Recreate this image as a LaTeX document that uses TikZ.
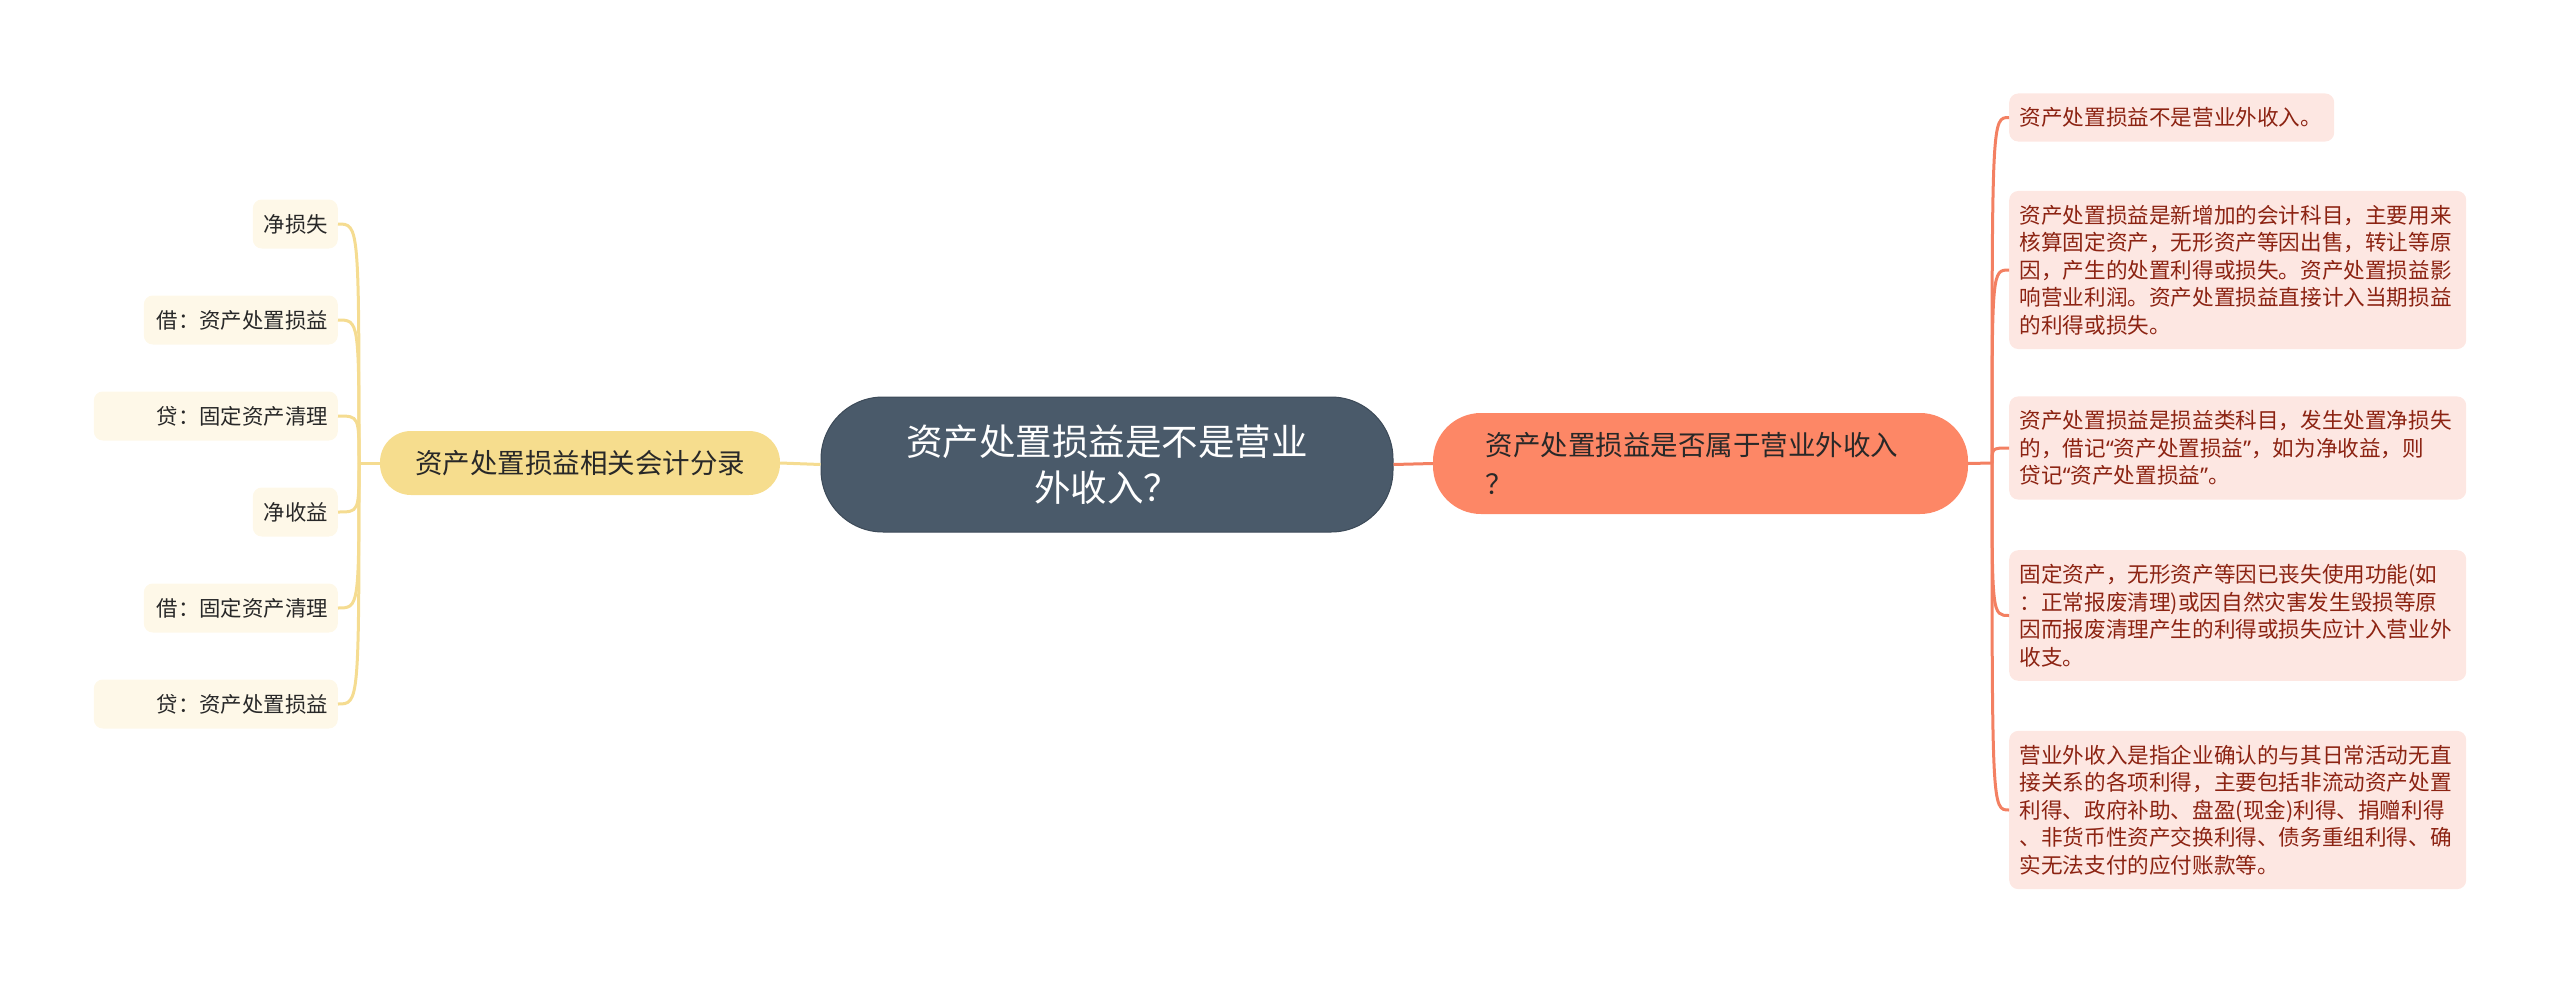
\documentclass[tikz,border=0pt]{standalone}
\usepackage{fontspec}
\setmainfont{Noto Sans CJK SC}
\newfontfamily\latinq{Noto Sans}
\newcommand{\myopq}{{\latinq “}}
\newcommand{\myclq}{{\latinq ”}}
\usetikzlibrary{calc}
\definecolor{cfill}{RGB}{74,90,106}
\definecolor{cdraw}{RGB}{60,74,88}
\definecolor{rfill}{RGB}{253,135,102}
\definecolor{rleaf}{RGB}{253,231,226}
\definecolor{rtext}{RGB}{140,35,18}
\definecolor{rline}{RGB}{243,128,98}
\definecolor{lfill}{RGB}{246,221,142}
\definecolor{lleaf}{RGB}{254,248,232}
\definecolor{lline}{RGB}{245,220,145}
\definecolor{dtext}{RGB}{40,40,40}
\tikzset{
  centernode/.style={fill=cfill, draw=cdraw, line width=1pt, rounded corners=62pt, text=white,
    minimum width=572pt, minimum height=135pt, align=center, inner sep=0pt,
    font=\fontsize{36.5}{46}\selectfont},
  rmain/.style={fill=rfill, rounded corners=48pt, text=dtext, minimum width=535pt, minimum height=101pt,
    text width=430pt, align=left, inner sep=0pt, font=\fontsize{27.5}{39}\selectfont},
  lmain/.style={fill=lfill, rounded corners=31pt, text=dtext, minimum width=400pt, minimum height=64pt,
    align=center, inner sep=0pt, font=\fontsize{27.5}{34}\selectfont},
  rleafnode/.style={fill=rleaf, rounded corners=9pt, text=rtext, anchor=west, text width=436pt,
    align=left, inner xsep=10.5pt, inner ysep=14pt, font=\fontsize{21.6}{27.5}\selectfont},
  lleafnode/.style={fill=lleaf, rounded corners=9pt, text=dtext, anchor=east, align=right,
    inner xsep=10pt, minimum height=49pt, inner ysep=0pt, font=\fontsize{21.4}{27}\selectfont},
  rcon/.style={draw=rline, line width=3pt},
  lcon/.style={draw=lline, line width=3pt},
}
\begin{document}
\begin{tikzpicture}[x=1pt,y=-1pt]
\useasboundingbox (0,0) rectangle (2560,985);
\coordinate (jl) at (359,463);
\coordinate (jr) at (1992,463);
\node[lmain] (lm) at (580,463) {资产处置损益相关会计分录};
\node[rmain] (rm) at (1700.5,463.5) {资产处置损益是否属于营业外收入\\？};
\node[centernode] (c) at (1107,464.5) {资产处置损益是不是营业\\外收入？};
% left leaves
\node[lleafnode, text width=65pt] (l1) at (338,224) {净损失};
\node[lleafnode, text width=174pt] (l2) at (338,320) {借：资产处置损益};
\node[lleafnode, text width=224pt] (l3) at (338,416) {贷：固定资产清理};
\node[lleafnode, text width=65pt] (l4) at (338,512) {净收益};
\node[lleafnode, text width=174pt] (l5) at (338,608) {借：固定资产清理};
\node[lleafnode, text width=224pt] (l6) at (338,704) {贷：资产处置损益};
% right leaves
\node[rleafnode, text width=304pt] (r1) at (2009,117.5) {资产处置损益不是营业外收入。};
\node[rleafnode] (r2) at (2009,270) {资产处置损益是新增加的会计科目，主要用来\\核算固定资产，无形资产等因出售，转让等原\\因，产生的处置利得或损失。资产处置损益影\\响营业利润。资产处置损益直接计入当期损益\\的利得或损失。};
\node[rleafnode] (r3) at (2009,448) {资产处置损益是损益类科目，发生处置净损失\\的，借记\myopq 资产处置损益\myclq，如为净收益，则\\贷记\myopq 资产处置损益\myclq。};
\node[rleafnode] (r4) at (2009,615.5) {固定资产，无形资产等因已丧失使用功能(如\\：正常报废清理)或因自然灾害发生毁损等原\\因而报废清理产生的利得或损失应计入营业外\\收支。};
\node[rleafnode] (r5) at (2009,810) {营业外收入是指企业确认的与其日常活动无直\\接关系的各项利得，主要包括非流动资产处置\\利得、政府补助、盘盈(现金)利得、捐赠利得\\、非货币性资产交换利得、债务重组利得、确\\实无法支付的应付账款等。};
% connectors
\draw[rcon] (c.east) -- (rm.west);
\draw[lcon] (c.west) -- (lm.east);
\draw[lcon] (lm.west) -- (jl);
\draw[rcon] (rm.east) -- (jr);
\foreach \n in {l1,l2,l3,l4,l5,l6}{
  \draw[lcon] (jl) .. controls (jl |- \n.east) and (jl |- \n.east) .. (\n.east);
}
\foreach \n in {r1,r2,r3,r4,r5}{
  \draw[rcon] (jr) .. controls (jr |- \n.west) and (jr |- \n.west) .. (\n.west);
}
\end{tikzpicture}
\end{document}
